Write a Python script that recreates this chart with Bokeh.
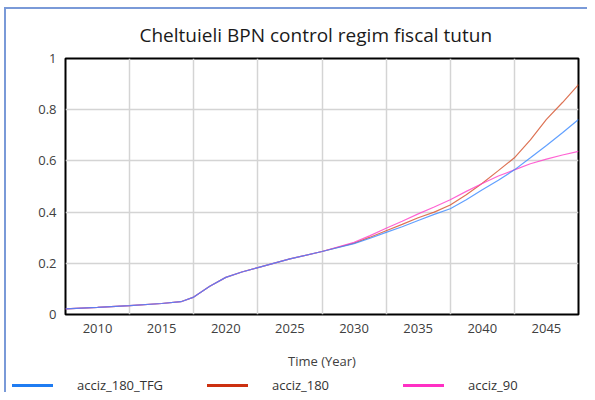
from bokeh.plotting import figure
from bokeh.layouts import column
from bokeh.models import FixedTicker, Range1d, Div
from bokeh.embed import file_html
from bokeh.resources import INLINE

# Time axis (year positions as shown on the chart)
time = [2007.5, 2010, 2012.5, 2015, 2016.5, 2017.5, 2018.75, 2020, 2021.25, 2022.5,
        2025, 2027.5, 2030, 2031.25, 2032.5, 2033.75, 2035, 2036.25, 2037.5, 2038.75,
        2040, 2041.25, 2042.5, 2043.75, 2045, 2046.25, 2047.5]

acciz_180_TFG = [0.022, 0.028, 0.035, 0.043, 0.050, 0.068, 0.110, 0.145, 0.166, 0.183,
                 0.217, 0.246, 0.277, 0.298, 0.321, 0.343, 0.367, 0.391, 0.413, 0.448,
                 0.487, 0.524, 0.565, 0.612, 0.660, 0.710, 0.762]
acciz_180 = [0.022, 0.028, 0.035, 0.043, 0.050, 0.068, 0.110, 0.145, 0.166, 0.183,
             0.217, 0.246, 0.279, 0.302, 0.327, 0.352, 0.378, 0.400, 0.428, 0.468,
             0.513, 0.562, 0.612, 0.682, 0.762, 0.828, 0.898]
acciz_90 = [0.022, 0.028, 0.035, 0.043, 0.050, 0.068, 0.110, 0.145, 0.166, 0.183,
            0.217, 0.246, 0.282, 0.308, 0.337, 0.364, 0.393, 0.420, 0.448, 0.481,
            0.512, 0.541, 0.565, 0.589, 0.607, 0.623, 0.637]

series_names = ["acciz_180_TFG", "acciz_180", "acciz_90"]
x_ticks = [2010, 2015, 2020, 2025, 2030, 2035, 2040, 2045]
x_grid = [2012.5, 2017.5, 2022.5, 2027.5, 2032.5, 2037.5, 2042.5]
y_ticks = [0, 0.2, 0.4, 0.6, 0.8, 1]
y_tick_labels = ["0", "0.2", "0.4", "0.6", "0.8", "1"]

FONT = "Open Sans"
plot_colors = {"acciz_180_TFG": "#3a88ff", "acciz_180": "#d4502a", "acciz_90": "#ff3cc8"}
legend_colors = {"acciz_180_TFG": "#1f7cf2", "acciz_180": "#cc3010", "acciz_90": "#ff30c4"}
BORDER = "#7a9ad8"

main = figure(width=581, height=367, output_backend="svg", toolbar_location=None,
              x_range=Range1d(2007.5, 2047.5), y_range=Range1d(0, 1),
              min_border_left=59, min_border_right=9, min_border_top=49, min_border_bottom=62,
              background_fill_color="white", border_fill_color="white")

main.title.text = "Cheltuieli BPN control regim fiscal tutun"
main.title.text_font = FONT
main.title.text_font_size = "19px"
main.title.text_font_style = "normal"
main.title.text_color = "#1a1a1a"
main.title.align = "left"
main.title.offset = 74
main.title.standoff = 21

main.outline_line_color = "black"
main.outline_line_width = 2
main.outline_line_alpha = 1

for ax in (main.xaxis[0], main.yaxis[0]):
    ax.axis_line_color = None
    ax.major_tick_line_color = None
    ax.minor_tick_line_color = None
    ax.major_label_text_font = FONT
    ax.major_label_text_font_size = "13px"
    ax.major_label_text_color = "#404040"

main.xaxis.ticker = FixedTicker(ticks=x_ticks)
main.xaxis.major_label_standoff = 3
main.xaxis.axis_label = "Time (Year)"
main.xaxis.axis_label_text_font = FONT
main.xaxis.axis_label_text_font_size = "13px"
main.xaxis.axis_label_text_font_style = "normal"
main.xaxis.axis_label_text_color = "#404040"
main.xaxis.axis_label_standoff = 16

main.yaxis.ticker = FixedTicker(ticks=y_ticks)
main.yaxis.major_label_overrides = {t: s for t, s in zip(y_ticks, y_tick_labels)}
main.yaxis.major_label_standoff = 3

main.xgrid.ticker = FixedTicker(ticks=x_grid)
main.ygrid.ticker = FixedTicker(ticks=y_ticks)
for g in (main.xgrid[0], main.ygrid[0]):
    g.grid_line_color = "#d4d4d4"
    g.grid_line_width = 1.5

data = {"acciz_180_TFG": acciz_180_TFG, "acciz_180": acciz_180, "acciz_90": acciz_90}
for name in ["acciz_180", "acciz_90", "acciz_180_TFG"]:
    main.line(time, data[name], line_color=plot_colors[name], line_width=1.2, line_alpha=0.8)

# legend strip below the chart (HTML, real text)
line_lefts = [6, 201, 397]
parts = []
for name, lx in zip(series_names, line_lefts):
    parts.append(
        f'<span style="position:absolute;left:{lx}px;top:8px;width:41px;height:3px;'
        f'background:{legend_colors[name]};"></span>'
        f'<span style="position:absolute;left:{lx + 65}px;top:0px;line-height:18px;'
        f'white-space:nowrap;">{name}</span>'
    )
legend_html = (
    '<div style="position:relative;width:581px;height:16px;'
    f"font-family:'{FONT}';font-size:13px;color:#333333;\">" + "".join(parts) + "</div>"
)
leg = Div(text=legend_html, width=581, height=16, margin=0)

p = column(main, leg, spacing=0, margin=(7, 0, 0, 4),
           styles={"border-left": f"2px solid {BORDER}", "border-top": f"2px solid {BORDER}"})

open("out.html", "w").write(file_html(p, INLINE))
